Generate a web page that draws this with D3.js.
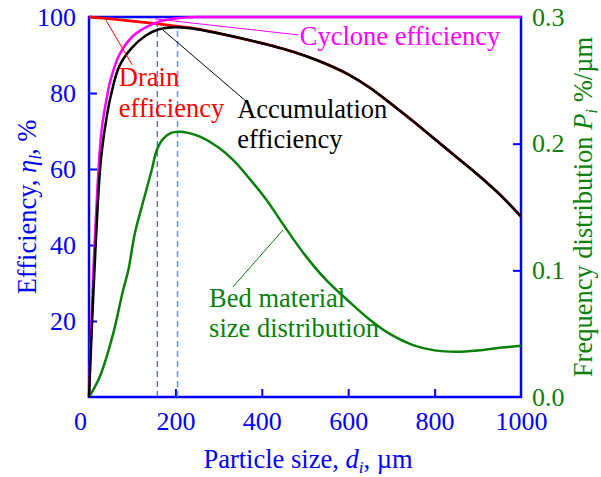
<!DOCTYPE html>
<html>
<head>
<meta charset="utf-8">
<script src="https://cdn.jsdelivr.net/npm/d3@7/dist/d3.min.js"></script>
<style>
  html, body { margin: 0; padding: 0; background: #fff; }
  svg, svg text { font-family: "Liberation Serif", "Times New Roman", "Nimbus Roman", "DejaVu Serif", serif; }
</style>
</head>
<body>
<svg id="chart" width="601" height="477"></svg>
<script>
const SERIF = "'Liberation Serif', 'Times New Roman', 'Nimbus Roman', 'DejaVu Serif', serif";

// Particle size grid (µm) and efficiency curves (%)
const sizeCyclone = [0, 5, 10, 15, 20, 25, 30, 40, 50, 70, 100, 130, 160, 200, 250, 300, 400, 500, 600, 700, 800, 900, 1000];
const cycloneEff  = [0, 17, 33, 45, 56, 65, 71, 78, 83.5, 90, 94.8, 97.2, 98.7, 99.6, 100, 100, 100, 100, 100, 100, 100, 100, 100];

const sizeDrain = [0, 50, 100, 150, 200, 250, 300, 400, 450, 500, 550, 600, 650, 700, 750, 800, 850, 900, 950, 1000];
const drainEff  = [100, 99.5, 98.9, 98.3, 97.6, 96.9, 95.7, 93.1, 91.6, 89.8, 87.6, 84.9, 81.4, 77.1, 72.6, 67.9, 63.2, 58.5, 53.4, 47.5];

const sizeAccum = [0, 5, 10, 15, 20, 25, 30, 40, 50, 70, 100, 130, 160, 200, 250, 300, 400, 450, 500, 550, 600, 650, 700, 750, 800, 850, 900, 950, 1000];
const accumEff  = [0, 14, 27, 39, 50, 59, 65, 73, 79, 87, 92, 95, 96.7, 97.3, 96.8, 95.7, 93.1, 91.6, 89.8, 87.6, 84.9, 81.4, 77.1, 72.6, 67.9, 63.2, 58.5, 53.4, 47.5];

// Bed material frequency distribution (%/µm)
const sizeBed = [0, 25, 56, 79, 91, 106, 122, 145, 157, 172, 190, 207, 230, 257, 300, 334, 370, 411, 450, 500, 550, 600, 650, 700, 750, 800, 850, 900, 950, 1000];
const bedFreq = [0, 0.016, 0.050, 0.0845, 0.100, 0.129, 0.150, 0.179, 0.195, 0.204, 0.2085, 0.2095, 0.2085, 0.2055, 0.197, 0.187, 0.173, 0.1555, 0.136, 0.112, 0.092, 0.076, 0.061, 0.049, 0.041, 0.0368, 0.0358, 0.0368, 0.0388, 0.0405];

// Axis ticks
const xTicks = [0, 200, 400, 600, 800, 1000];
const yLeftTicks = [20, 40, 60, 80, 100];
const yRightTicks = [0.0, 0.1, 0.2, 0.3];

// Reference sizes marked by vertical dashed lines
const markSizes = [158, 205];
const markTops  = [99.2, 97.3];

const BLUE = "#0000ff", GREEN = "#0a800a", RED = "#ff0000", MAGENTA = "#ff00ff";

const svg = d3.select("#chart");
const m = { left: 89, top: 17, right: 80, bottom: 80 };
const W = 601 - m.left - m.right, H = 477 - m.top - m.bottom;

const x = d3.scaleLinear().domain([0, 1000]).range([m.left, m.left + W]);
const yL = d3.scaleLinear().domain([0, 100]).range([m.top + H, m.top]);
const yR = d3.scaleLinear().domain([0, 0.3]).range([m.top + H, m.top]);

// Frame
svg.append("rect")
  .attr("x", x(0)).attr("y", yL(100))
  .attr("width", x(1000) - x(0)).attr("height", yL(0) - yL(100))
  .attr("fill", "none").attr("stroke", BLUE).attr("stroke-width", 2.5);

// Axes with inward ticks
const fs = 26;
const gx = svg.append("g").attr("transform", `translate(0,${yL(0)})`)
  .call(d3.axisBottom(x).tickValues(xTicks).tickFormat(d3.format("d")).tickSizeInner(-8).tickSizeOuter(0).tickPadding(15));
const gl = svg.append("g").attr("transform", `translate(${x(0)},0)`)
  .call(d3.axisLeft(yL).tickValues(yLeftTicks).tickFormat(d3.format("d")).tickSizeInner(-8).tickSizeOuter(0).tickPadding(13));
const gr = svg.append("g").attr("transform", `translate(${x(1000)},0)`)
  .call(d3.axisRight(yR).tickValues(yRightTicks).tickFormat(d3.format(".1f")).tickSizeInner(-8).tickSizeOuter(0).tickPadding(11));

[gx, gl, gr].forEach(g => {
  g.select(".domain").remove();
  g.attr("font-family", SERIF);
  g.selectAll("line").attr("stroke", BLUE).attr("stroke-width", 2);
  g.selectAll("text").attr("font-size", fs).attr("font-family", SERIF);
});
gx.selectAll("text").attr("fill", BLUE);
gl.selectAll("text").attr("fill", BLUE);
gr.selectAll("text").attr("fill", GREEN);
gx.selectAll(".tick").filter(d => d === 0).select("text").attr("dx", -9);
gx.selectAll(".tick").filter(d => d === 0 || d === 1000).select("line").remove();
gl.selectAll(".tick").filter(d => d === 100).select("line").remove();
gr.selectAll(".tick").filter(d => d === 0 || d === 0.3).select("line").remove();

// Dashed markers
svg.append("line")
  .attr("x1", x(markSizes[0])).attr("x2", x(markSizes[0]))
  .attr("y1", yL(0)).attr("y2", yL(markTops[0]))
  .attr("stroke", "#2a3a9a").attr("stroke-width", 1).attr("stroke-dasharray", "6,4");
svg.append("line")
  .attr("x1", x(markSizes[1])).attr("x2", x(markSizes[1]))
  .attr("y1", yL(0)).attr("y2", yL(markTops[1]))
  .attr("stroke", "#6a8cff").attr("stroke-width", 1.5).attr("stroke-dasharray", "6,4");

// Curves
const curve = d3.curveCatmullRom.alpha(0.5);
const lineL = (xs, ys) => d3.line().curve(curve)
  .x((d, i) => x(xs[i])).y((d, i) => yL(ys[i]))(ys);
const lineR = (xs, ys) => d3.line().curve(curve)
  .x((d, i) => x(xs[i])).y((d, i) => yR(ys[i]))(ys);

svg.append("path").attr("d", lineR(sizeBed, bedFreq))
  .attr("fill", "none").attr("stroke", GREEN).attr("stroke-width", 2.5);
svg.append("path").attr("d", lineL(sizeDrain, drainEff))
  .attr("fill", "none").attr("stroke", RED).attr("stroke-width", 2.8);
svg.append("path").attr("d", lineL(sizeCyclone, cycloneEff))
  .attr("fill", "none").attr("stroke", MAGENTA).attr("stroke-width", 2.5);
svg.append("path").attr("d", lineL(sizeAccum, accumEff))
  .attr("fill", "none").attr("stroke", "#000").attr("stroke-width", 2.5);

// Leader lines (data coordinates) and labels
const leaders = [
  { from: [39, 99.2], to: [100, 87.4], axis: "L", color: RED },
  { from: [153, 99.5], to: [484, 95.3], axis: "L", color: MAGENTA },
  { from: [171, 96.6], to: [366, 77.6], axis: "L", color: "#000" },
  { from: [333, 0.0868], to: [449, 0.1318], axis: "R", color: GREEN }
];
leaders.forEach(l => {
  const yy = l.axis === "L" ? yL : yR;
  svg.append("line")
    .attr("x1", x(l.from[0])).attr("y1", yy(l.from[1]))
    .attr("x2", x(l.to[0])).attr("y2", yy(l.to[1]))
    .attr("stroke", l.color).attr("stroke-width", 1);
});

const labels = [
  { lines: ["Cyclone efficiency"], at: [488, 92.6], step: 0, color: MAGENTA },
  { lines: ["Drain", "efficiency"], at: [69, 81.8], step: 8.0, color: RED },
  { lines: ["Accumulation", "efficiency"], at: [343, 73.4], step: 7.8, color: "#000" },
  { lines: ["Bed material", "size distribution"], at: [278, 23.6], step: 7.9, color: GREEN }
];
const afs = 26.5;
labels.forEach(lb => {
  lb.lines.forEach((t, i) => {
    svg.append("text")
      .attr("x", x(lb.at[0])).attr("y", yL(lb.at[1] - i * lb.step))
      .attr("fill", lb.color).attr("font-size", afs).attr("font-family", SERIF)
      .text(t);
  });
});

// Axis titles
const tfs = 26.5;
const xt = svg.append("text")
  .attr("x", (x(0) + x(1000)) / 2 + 3).attr("y", 468)
  .attr("text-anchor", "middle").attr("fill", BLUE).attr("font-size", tfs).attr("font-family", SERIF);
xt.append("tspan").text("Particle size, ");
xt.append("tspan").attr("font-style", "italic").text("d");
xt.append("tspan").attr("font-style", "italic").attr("font-size", tfs * 0.65).attr("dy", 5).text("i");
xt.append("tspan").attr("dy", -5).text(", µm");

const lt = svg.append("text")
  .attr("transform", `translate(36,${(yL(0) + yL(100)) / 2}) rotate(-90)`)
  .attr("text-anchor", "middle").attr("fill", BLUE).attr("font-size", tfs).attr("font-family", SERIF);
lt.append("tspan").text("Efficiency, ");
lt.append("tspan").attr("font-style", "italic").text("η");
lt.append("tspan").attr("font-style", "italic").attr("font-size", tfs * 0.65).attr("dy", 5).text("l");
lt.append("tspan").attr("dy", -5).text(", %");

const rt = svg.append("text")
  .attr("transform", `translate(592,${(yL(0) + yL(100)) / 2}) rotate(-90)`)
  .attr("text-anchor", "middle").attr("fill", GREEN).attr("font-size", tfs).attr("font-family", SERIF);
rt.append("tspan").text("Frequency distribution ");
rt.append("tspan").attr("font-style", "italic").text("P");
rt.append("tspan").attr("font-style", "italic").attr("font-size", tfs * 0.65).attr("dy", 5).text("i");
rt.append("tspan").attr("dy", -5).text(" %/µm");
</script>
</body>
</html>
